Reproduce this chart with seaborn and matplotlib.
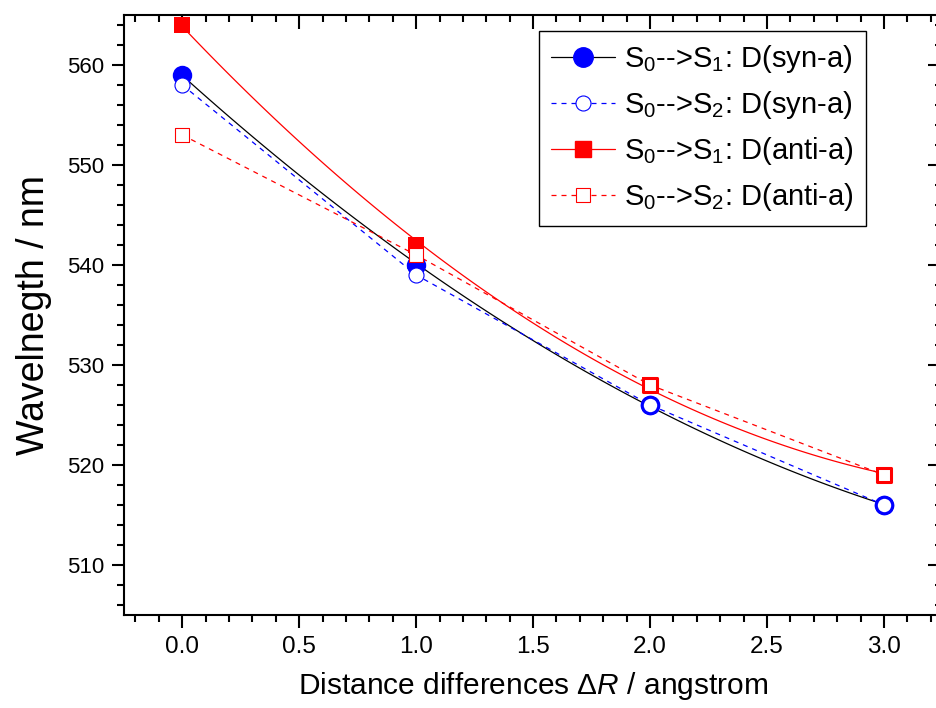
import pandas as pd
import matplotlib
matplotlib.use("Agg")
import matplotlib.pyplot as plt
import seaborn as sns
from matplotlib.lines import Line2D
from matplotlib.ticker import MultipleLocator, FormatStrFormatter, NullFormatter

# values
dist = [0.0, 1.0, 2.0, 3.0]
syn_s1 = [559, 540, 526, 516]
syn_s2 = [558, 539, 526, 516]
anti_s1 = [564, 542, 528, 519]
anti_s2 = [553, 541, 528, 519]
labels = [r"S$_0$-->S$_1$: D(syn-a)", r"S$_0$-->S$_2$: D(syn-a)",
          r"S$_0$-->S$_1$: D(anti-a)", r"S$_0$-->S$_2$: D(anti-a)"]

sns.set_theme(style="ticks")
plt.rcParams['font.family'] = ['Liberation Sans', 'DejaVu Sans']
plt.rcParams['mathtext.fontset'] = 'custom'
plt.rcParams['mathtext.rm'] = 'Liberation Sans'
plt.rcParams['mathtext.it'] = 'Liberation Sans:italic'
for k in ['text.color', 'axes.labelcolor', 'xtick.color', 'ytick.color', 'axes.edgecolor']:
    plt.rcParams[k] = 'black'

df = pd.DataFrame({"dist": dist, "syn_s1": syn_s1, "syn_s2": syn_s2,
                   "anti_s1": anti_s1, "anti_s2": anti_s2})

fig = plt.figure(figsize=(9.37, 7.08), dpi=100)
ax = fig.add_axes([0.1321, 0.1314, 0.8737, 0.8475])

# fitted smooth curves for S0->S1
sns.regplot(data=df, x="dist", y="syn_s1", order=2, ci=None, scatter=False,
            line_kws={"color": "black", "lw": 0.9}, ax=ax)
sns.regplot(data=df, x="dist", y="anti_s1", order=2, ci=None, scatter=False,
            line_kws={"color": "red", "lw": 0.9}, ax=ax)
# straight dashed for S0->S2
sns.lineplot(data=df, x="dist", y="syn_s2", color="blue", lw=0.9,
             linestyle=(0, (4, 4)), ax=ax)
sns.lineplot(data=df, x="dist", y="anti_s2", color="red", lw=0.9,
             linestyle=(0, (4, 4)), ax=ax)

# markers
sns.scatterplot(data=df, x="dist", y="syn_s1", marker="o", s=196,
                color="blue", edgecolor="blue", linewidth=0, zorder=3, ax=ax)
sns.scatterplot(data=df, x="dist", y="anti_s1", marker="s", s=144,
                color="red", edgecolor="red", linewidth=0, zorder=3, ax=ax)
first = df.iloc[:2]
last = df.iloc[2:]
sns.scatterplot(data=first, x="dist", y="syn_s2", marker="o", s=117,
                facecolor="white", edgecolor="blue", linewidth=0.8, zorder=4, ax=ax)
sns.scatterplot(data=first, x="dist", y="anti_s2", marker="s", s=88,
                facecolor="white", edgecolor="red", linewidth=0.8, zorder=4, ax=ax)
sns.scatterplot(data=last, x="dist", y="syn_s2", marker="o", s=140,
                facecolor="white", edgecolor="blue", linewidth=2.2, zorder=4, ax=ax)
sns.scatterplot(data=last, x="dist", y="anti_s2", marker="s", s=110,
                facecolor="white", edgecolor="red", linewidth=2.2, zorder=4, ax=ax)

ax.set_xlim(-0.25, 3.25)
ax.set_ylim(505, 565)


def set_locators(axis_x, axis_y):
    axis_x.set_major_locator(MultipleLocator(0.5))
    axis_x.set_minor_locator(MultipleLocator(0.1))
    axis_y.set_major_locator(MultipleLocator(10))
    axis_y.set_minor_locator(MultipleLocator(2))


set_locators(ax.xaxis, ax.yaxis)
ax.xaxis.set_major_formatter(FormatStrFormatter("%.1f"))

for s in ax.spines.values():
    s.set_visible(True)
    s.set_linewidth(1.5)
ax.tick_params(which="both", top=False, right=False, width=1.5, direction="out")
ax.tick_params(axis="x", which="major", length=9, labelsize=17.5, pad=6)
ax.tick_params(axis="y", which="major", length=9, labelsize=16, pad=5)
ax.tick_params(which="minor", length=5)

# top and right ticks point inward
top = ax.secondary_xaxis("top")
right = ax.secondary_yaxis("right")
set_locators(top.xaxis, right.yaxis)
for sec in (top, right):
    sec.tick_params(which="both", direction="in", width=1.5)
    sec.tick_params(which="major", length=10)
    sec.tick_params(which="minor", length=5)
top.xaxis.set_major_formatter(NullFormatter())
right.yaxis.set_major_formatter(NullFormatter())

ax.set_xlabel(r"Distance differences $\Delta\mathit{R}$ / angstrom", fontsize=21.5, labelpad=9)
ax.set_ylabel("Wavelnegth / nm", fontsize=27, labelpad=11)

handles = [
    Line2D([], [], color="black", lw=0.9, marker="o", ms=14, mfc="blue", mec="blue"),
    Line2D([], [], color="blue", lw=0.9, ls=(0, (4, 4)), marker="o", ms=10.8,
           mfc="white", mec="blue", mew=0.8),
    Line2D([], [], color="red", lw=0.9, marker="s", ms=12, mfc="red", mec="red"),
    Line2D([], [], color="red", lw=0.9, ls=(0, (4, 4)), marker="s", ms=9.4,
           mfc="white", mec="red", mew=0.8),
]
leg = ax.legend(handles, labels, loc="upper left", bbox_to_anchor=(539 / 937, 1 - 31 / 708),
                bbox_transform=fig.transFigure, borderaxespad=0, fontsize=21,
                fancybox=False, framealpha=1, edgecolor="black", handlelength=2.2,
                handletextpad=0.3, labelspacing=0.48, borderpad=0.42)
leg.get_frame().set_linewidth(1.0)

fig.savefig("out.png", dpi=100)
